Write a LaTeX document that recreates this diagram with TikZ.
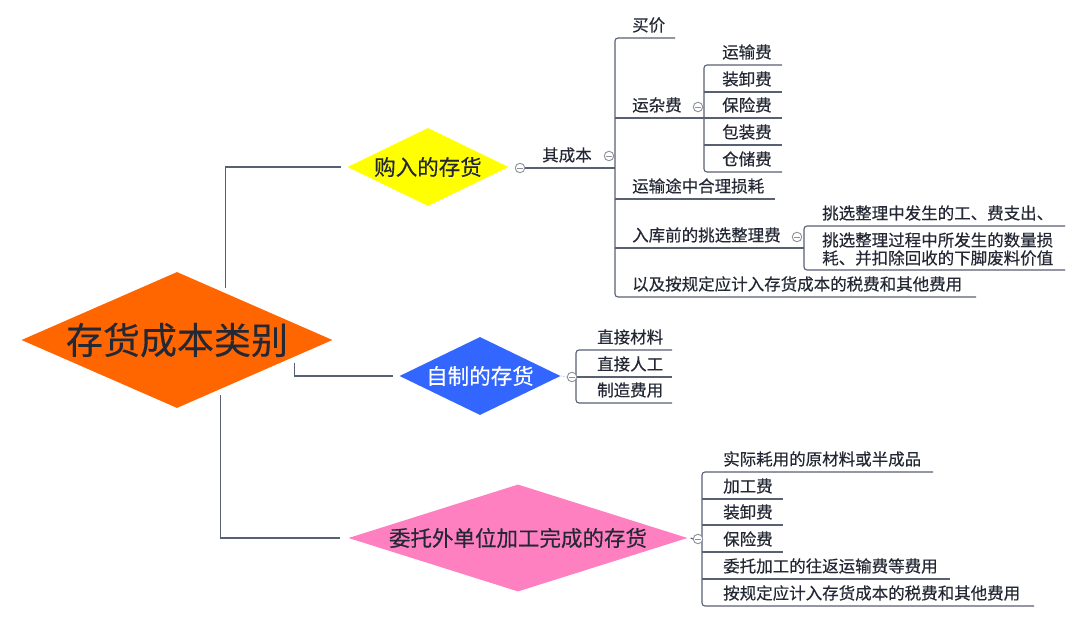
\documentclass[tikz,border=0pt]{standalone}
\usepackage{fontspec}
\setmainfont{Noto Sans CJK SC}[UprightFeatures={FakeBold=0.3}]
\usetikzlibrary{shapes.geometric,calc}
\definecolor{lineC}{RGB}{88,96,115}
\definecolor{txtC}{RGB}{35,40,52}
\definecolor{orangeC}{RGB}{255,102,0}
\definecolor{yellowC}{RGB}{255,255,0}
\definecolor{blueC}{RGB}{51,102,255}
\definecolor{pinkC}{RGB}{255,128,192}
\definecolor{togC}{RGB}{140,145,155}
\tikzset{
  conn/.style={draw=lineC, line width=1.1pt},
  branch/.style={conn, rounded corners=3pt},
  leaf/.style={anchor=west, inner sep=0pt, font=\fontsize{16.5}{18}\selectfont, text=txtC},
  dia/.style={diamond, inner sep=0pt, draw=none, text=txtC},
  tog/.style={circle, draw=togC, fill=white, minimum size=9.5pt, inner sep=0pt, line width=0.9pt,
    path picture={\draw[togC, line width=0.9pt] ([xshift=2pt]path picture bounding box.west) -- ([xshift=-2pt]path picture bounding box.east);}}
}
\begin{document}
\begin{tikzpicture}[x=1pt,y=-1pt]
\useasboundingbox[fill=white] (0,0) rectangle (1080,620);

% diamonds
\node[dia, fill=orangeC, minimum width=311pt, minimum height=136pt, font=\fontsize{37}{40}\selectfont] (root) at (177,340) {\makebox[0pt]{存货成本类别}};
\node[dia, fill=yellowC, minimum width=161pt, minimum height=78pt, font=\fontsize{21.5}{24}\selectfont] (buy) at (428,167) {\makebox[0pt]{购入的存货}};
\node[dia, fill=blueC, minimum width=161pt, minimum height=78pt, text=white, font=\fontsize{21.5}{24}\selectfont] (make) at (480,376) {\makebox[0pt]{自制的存货}};
\node[dia, fill=pinkC, minimum width=339pt, minimum height=107pt, font=\fontsize{21.5}{24}\selectfont] (proc) at (518,538) {\makebox[0pt]{委托外单位加工完成的存货}};

% root connectors
\coordinate (r1) at ($(root.north)!0.31!(root.east)+(0,-5)$);
\coordinate (r2) at ($(root.east)!0.245!(root.south)+(0,6)$);
\coordinate (r3) at ($(root.east)!0.72!(root.south)+(0,6)$);
\draw[conn] (r1) |- ([xshift=-6pt]buy.west);
\draw[conn] (r2) |- ([xshift=-6pt]make.west);
\draw[conn] (r3) |- ([xshift=-8pt]proc.west);

% ---------- purchased ----------
\coordinate (va) at (615,168);
\node[leaf, anchor=center] (qcb) at (567,155) {其成本};
\node[tog] (tb) at (520,168) {};
\draw[conn] (tb.east) -- (va);
\node[tog] (tq) at (609,156) {};

\node[leaf] (a1) at (632,25) {买价};
\node[leaf] (a2) at (632,105) {运杂费};
\node[leaf] (a3) at (632,186) {运输途中合理损耗};
\node[leaf] (a4) at (632,235) {入库前的挑选整理费};
\node[leaf] (a5) at (632,284) {以及按规定应计入存货成本的税费和其他费用};
\coordinate (a1e) at (675,38);
\coordinate (a2e) at (704,118);
\coordinate (a3e) at (775,199);
\coordinate (a4e) at (804,248);
\coordinate (a5e) at (976,297);
\draw[branch] (a1e) -- (va |- a1e) -- (va |- a5e) -- (a5e);
\draw[conn] (va |- a2e) -- (a2e);
\draw[conn] (va |- a3e) -- (a3e);
\draw[conn] (va |- a4e) -- (a4e);

% 运杂费 children
\coordinate (vb) at (704,118);
\node[leaf] (b1) at (722,52) {运输费};
\node[leaf] (b2) at (722,79) {装卸费};
\node[leaf] (b3) at (722,105) {保险费};
\node[leaf] (b4) at (722,132) {包装费};
\node[leaf] (b5) at (722,159) {仓储费};
\coordinate (b1e) at (782,65);
\coordinate (b2e) at (782,92);
\coordinate (b3e) at (782,118);
\coordinate (b4e) at (782,145);
\coordinate (b5e) at (782,172);
\draw[branch] (b1e) -- (vb |- b1e) -- (vb |- b5e) -- (b5e);
\draw[conn] (vb |- b2e) -- (b2e);
\draw[conn] (vb |- b3e) -- (b3e);
\draw[conn] (vb |- b4e) -- (b4e);
\node[tog] (ty) at (698,107) {};

% 入库前 children
\coordinate (vc) at (804,248);
\node[leaf] (c1) at (822,213) {挑选整理中发生的工、费支出、};
\node[leaf, align=left] (c2) at (822,249) {挑选整理过程中所发生的数量损\\耗、并扣除回收的下脚废料价值};
\coordinate (c1e) at (1065,226);
\coordinate (c2e) at (1065,270);
\draw[branch] (c1e) -- (vc |- c1e) -- (vc |- c2e) -- (c2e);
\node[tog] (tr) at (797,237) {};

% ---------- self-made ----------
\coordinate (vd) at (576,377);
\node[leaf] (d1) at (597,337) {直接材料};
\node[leaf] (d2) at (597,364) {直接人工};
\node[leaf] (d3) at (597,390) {制造费用};
\coordinate (d1e) at (672,350);
\coordinate (d2e) at (672,377);
\coordinate (d3e) at (672,403);
\draw[branch] (d1e) -- (vd |- d1e) -- (vd |- d3e) -- (d3e);
\draw[conn] (vd) -- (d2e);
\node[tog] (td) at (572,377) {};
\draw[blueC!60, line width=0.8pt, dotted] (make.east) -- (td.west);

% ---------- processed ----------
\coordinate (ve) at (702,539);
\node[leaf] (e1) at (723,459) {实际耗用的原材料或半成品};
\node[leaf] (e2) at (723,486) {加工费};
\node[leaf] (e3) at (723,512) {装卸费};
\node[leaf] (e4) at (723,539) {保险费};
\node[leaf] (e5) at (723,566) {委托加工的往返运输费等费用};
\node[leaf] (e6) at (723,593) {按规定应计入存货成本的税费和其他费用};
\coordinate (e1e) at (933,472);
\coordinate (e2e) at (783,499);
\coordinate (e3e) at (783,525);
\coordinate (e4e) at (783,552);
\coordinate (e5e) at (950,579);
\coordinate (e6e) at (1034,606);
\draw[branch] (e1e) -- (ve |- e1e) -- (ve |- e6e) -- (e6e);
\draw[conn] (ve |- e2e) -- (e2e);
\draw[conn] (ve |- e3e) -- (e3e);
\draw[conn] (ve |- e4e) -- (e4e);
\draw[conn] (ve |- e5e) -- (e5e);
\node[tog] (te) at (698,539) {};
\draw[conn] ([xshift=3pt]proc.east) -- (te.west);
\end{tikzpicture}
\end{document}
